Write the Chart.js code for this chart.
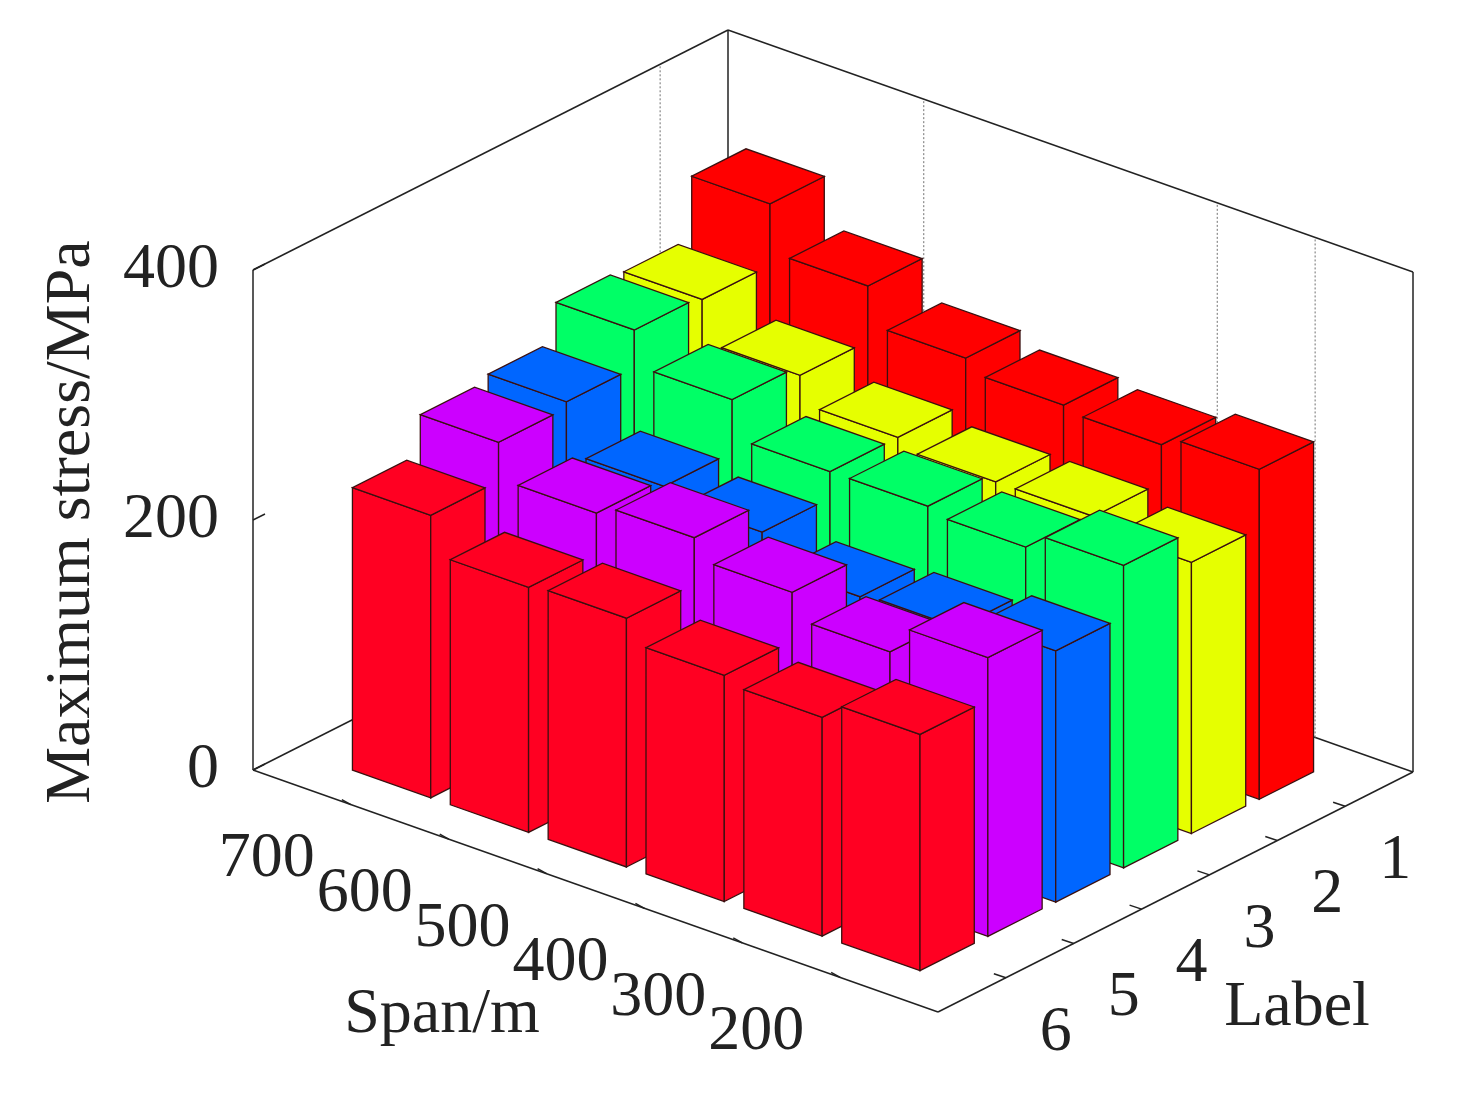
<!DOCTYPE html>
<html><head><meta charset="utf-8">
<script src="https://cdn.jsdelivr.net/npm/chart.js@4/dist/chart.umd.min.js"></script>
<style>html,body{margin:0;padding:0;background:#fff}#w{width:1459px;height:1099px}</style>
</head><body><div id="w"><canvas id="c"></canvas></div>
<script>
const spans = ['700','600','500','400','300','200'];
const labels = ['1','2','3','4','5','6'];
const zTicks = [0,200,400];
const colors = ['#ff0000','#e6ff00','#00ff66','#0066ff','#cc00ff','#ff0022'];
// stress[labelIndex][spanIndex]
const stress1 = [338,300,270,260,256,264];
const stress2 = [289,256,234,226,226,217];
const stress3 = [292,264,234,234,229,242];
const stress4 = [262,222,213,189,192,201];
const stress5 = [257,228,236,220,200,223];
const stress6 = [226,196,199,181,175,189];
const stress = [stress1,stress2,stress3,stress4,stress5,stress6];

const L = [253,770], SP=[685/7,242/7], LB=[475/7,-240/7], ZS=1.25;
function P(chart,p,q,z){
  const sx=L[0]+p*SP[0]+q*LB[0], sy=L[1]+p*SP[1]+q*LB[1]-z*ZS;
  return [chart.scales.x.getPixelForValue(sx), chart.scales.y.getPixelForValue(sy)];
}
function poly(ctx,pts,fill,stroke,lw){
  ctx.beginPath();pts.forEach((pt,i)=>i?ctx.lineTo(pt[0],pt[1]):ctx.moveTo(pt[0],pt[1]));ctx.closePath();
  if(fill){ctx.fillStyle=fill;ctx.fill();}
  if(stroke){ctx.strokeStyle=stroke;ctx.lineWidth=lw||1;ctx.stroke();}
}
function line(ctx,a,b,col,lw,dash){ctx.beginPath();ctx.moveTo(a[0],a[1]);ctx.lineTo(b[0],b[1]);ctx.strokeStyle=col;ctx.lineWidth=lw;ctx.setLineDash(dash||[]);ctx.stroke();ctx.setLineDash([]);}

const plugin={id:'bars3d',afterDraw(chart){
  const ctx=chart.ctx; ctx.save();
  const pp=(p,q,z)=>P(chart,p,q,z);
  line(ctx,pp(0,0,0),pp(0,7,0),'#222',1.5);
  line(ctx,pp(0,7,0),pp(7,7,0),'#222',1.5);
  line(ctx,pp(0,7,0),pp(0,7,400),'#222',1.5);
  line(ctx,pp(0,0,400),pp(0,7,400),'#222',1.5);
  line(ctx,pp(0,7,400),pp(7,7,400),'#222',1.5);
  line(ctx,pp(7,7,0),pp(7,7,400),'#222',1.5);
  // visible grid lines
  line(ctx,pp(0,6,0),pp(0,6,400),'#888',1.2,[2,2]);
  [2,5,6].forEach(p=>line(ctx,pp(p,7,0),pp(p,7,400),'#888',1.2,[2,2]));
  line(ctx,pp(0,0,0),pp(0,0,400),'#222',1.5);
  const items=[];
  for(let li=0;li<6;li++)for(let si=0;si<6;si++)items.push({p:si+1,q:7-(li+1),v:stress[li][si],c:colors[li]});
  items.sort((a,b)=>(a.p-a.q)-(b.p-b.q));
  const w=0.4, ec='#3a1010';
  items.forEach(b=>{
    const p0=b.p-w,p1=b.p+w,q0=b.q-w,q1=b.q+w,h=b.v;
    poly(ctx,[pp(p0,q0,0),pp(p1,q0,0),pp(p1,q0,h),pp(p0,q0,h)],b.c,ec,1.3);
    poly(ctx,[pp(p1,q0,0),pp(p1,q1,0),pp(p1,q1,h),pp(p1,q0,h)],b.c,ec,1.3);
    poly(ctx,[pp(p0,q0,h),pp(p1,q0,h),pp(p1,q1,h),pp(p0,q1,h)],b.c,ec,1.3);
  });
  line(ctx,pp(0,0,0),pp(7,0,0),'#222',1.5);
  line(ctx,pp(7,0,0),pp(7,7,0),'#222',1.5);
  ctx.fillStyle='#222';ctx.font='64px "Liberation Serif"';
  ctx.textAlign='right';ctx.textBaseline='middle';
  zTicks.forEach(z=>{const a=pp(0,0,z);line(ctx,a,[a[0]+12,a[1]-6],'#222',1.5);ctx.fillText(String(z),a[0]-34,a[1]);});
  ctx.textAlign='center';
  spans.forEach((s,i)=>{const a=pp(i+1,0,0);line(ctx,a,[a[0]-9,a[1]-5],'#222',1.5);ctx.fillText(s,a[0]-84,a[1]+55);});
  labels.forEach((s,i)=>{const a=pp(7,7-(i+1),0);line(ctx,a,[a[0]-12,a[1]-4],'#222',1.5);ctx.fillText(s,a[0]+50,a[1]+55);});
  ctx.fillText('Span/m',442,1015);
  ctx.fillText('Label',1297,1008);
  ctx.save();ctx.translate(72,522);ctx.rotate(-Math.PI/2);ctx.fillText('Maximum stress/MPa',0,0);ctx.restore();
  ctx.restore();
}};
new Chart(document.getElementById('c'),{type:'scatter',data:{datasets:[{data:[]}]},
  options:{responsive:true,maintainAspectRatio:false,animation:false,layout:{padding:0},
    plugins:{legend:{display:false},tooltip:{enabled:false}},
    scales:{x:{type:'linear',min:0,max:1459,display:false},y:{type:'linear',min:0,max:1099,reverse:true,display:false}}},
  plugins:[plugin]});
</script></body></html>
